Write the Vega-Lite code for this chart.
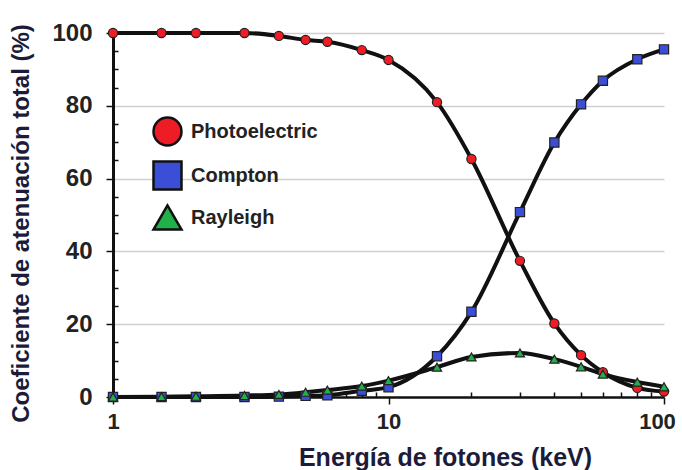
{
  "$schema": "https://vega.github.io/schema/vega-lite/v6.json",
  "width": 551,
  "height": 364,
  "autosize": "none",
  "padding": {"left": 113, "top": 33, "right": 18, "bottom": 73},
  "background": "white",
  "data": {
    "values": [
      {"E": 1, "s": "Photoelectric", "v": 100},
      {"E": 1.5, "s": "Photoelectric", "v": 100},
      {"E": 2, "s": "Photoelectric", "v": 100},
      {"E": 3, "s": "Photoelectric", "v": 100},
      {"E": 4, "s": "Photoelectric", "v": 99.2},
      {"E": 5, "s": "Photoelectric", "v": 98.1},
      {"E": 6, "s": "Photoelectric", "v": 97.6},
      {"E": 8, "s": "Photoelectric", "v": 95.3},
      {"E": 10, "s": "Photoelectric", "v": 92.6},
      {"E": 15, "s": "Photoelectric", "v": 81},
      {"E": 20, "s": "Photoelectric", "v": 65.4},
      {"E": 30, "s": "Photoelectric", "v": 37.4},
      {"E": 40, "s": "Photoelectric", "v": 20.2},
      {"E": 50, "s": "Photoelectric", "v": 11.5},
      {"E": 60, "s": "Photoelectric", "v": 6.8},
      {"E": 80, "s": "Photoelectric", "v": 2.5},
      {"E": 100, "s": "Photoelectric", "v": 1.5},
      {"E": 1, "s": "Compton", "v": 0},
      {"E": 1.5, "s": "Compton", "v": 0},
      {"E": 2, "s": "Compton", "v": 0},
      {"E": 3, "s": "Compton", "v": 0},
      {"E": 4, "s": "Compton", "v": 0.1},
      {"E": 5, "s": "Compton", "v": 0.3},
      {"E": 6, "s": "Compton", "v": 0.5},
      {"E": 8, "s": "Compton", "v": 1.7},
      {"E": 10, "s": "Compton", "v": 2.7},
      {"E": 15, "s": "Compton", "v": 11.2},
      {"E": 20, "s": "Compton", "v": 23.4},
      {"E": 30, "s": "Compton", "v": 50.8},
      {"E": 40, "s": "Compton", "v": 69.9},
      {"E": 50, "s": "Compton", "v": 80.4},
      {"E": 60, "s": "Compton", "v": 86.9},
      {"E": 80, "s": "Compton", "v": 92.8},
      {"E": 100, "s": "Compton", "v": 95.5},
      {"E": 1, "s": "Rayleigh", "v": 0},
      {"E": 1.5, "s": "Rayleigh", "v": 0.1},
      {"E": 2, "s": "Rayleigh", "v": 0.2},
      {"E": 3, "s": "Rayleigh", "v": 0.4},
      {"E": 4, "s": "Rayleigh", "v": 0.7},
      {"E": 5, "s": "Rayleigh", "v": 1.3},
      {"E": 6, "s": "Rayleigh", "v": 1.9},
      {"E": 8, "s": "Rayleigh", "v": 3.0},
      {"E": 10, "s": "Rayleigh", "v": 4.5},
      {"E": 15, "s": "Rayleigh", "v": 8.2},
      {"E": 20, "s": "Rayleigh", "v": 11},
      {"E": 30, "s": "Rayleigh", "v": 12.1},
      {"E": 40, "s": "Rayleigh", "v": 10.4},
      {"E": 50, "s": "Rayleigh", "v": 8.3},
      {"E": 60, "s": "Rayleigh", "v": 6.3},
      {"E": 80, "s": "Rayleigh", "v": 4.1},
      {"E": 100, "s": "Rayleigh", "v": 2.8}
    ]
  },
  "encoding": {
    "x": {
      "field": "E",
      "type": "quantitative",
      "scale": {"type": "log", "domain": [1, 100], "nice": false},
      "axis": {
        "title": "Energía de fotones (keV)",
        "values": [1, 2, 3, 4, 5, 6, 7, 8, 9, 10, 20, 30, 40, 50, 60, 70, 80, 90, 100],
        "labelExpr": "datum.value === 1 || datum.value === 10 || datum.value === 100 ? datum.value : ''",
        "grid": false,
        "domainColor": "#111",
        "domainWidth": 2.5,
        "tickColor": "#111",
        "tickWidth": 1.5,
        "tickSize": {"condition": {"test": "datum.value === 1 || datum.value === 10 || datum.value === 100", "value": 7}, "value": -5},
        "labelFontSize": 22,
        "labelFontWeight": "bold",
        "labelColor": "#222",
        "labelPadding": 7,
        "labelFlush": false,
        "labelOffset": {"condition": {"test": "datum.value === 100", "value": -7}, "value": 0},
        "titleFontSize": 25,
        "titleFontWeight": "bold",
        "titleColor": "#1c1c3a",
        "titleX": 332,
        "titleY": 48,
        "titleAlign": "center",
        "titleBaseline": "top"
      }
    },
    "y": {
      "field": "v",
      "type": "quantitative",
      "scale": {"domain": [0, 100], "nice": false},
      "axis": {
        "title": "Coeficiente de atenuación total (%)",
        "values": [0, 5, 10, 15, 20, 25, 30, 35, 40, 45, 50, 55, 60, 65, 70, 75, 80, 85, 90, 95, 100],
        "labelExpr": "datum.value % 20 === 0 ? datum.label : ''",
        "domainColor": "#111",
        "domainWidth": 3,
        "tickColor": "#111",
        "tickWidth": 1.5,
        "tickSize": {"condition": {"test": "datum.value % 20 === 0", "value": 7}, "value": -5},
        "gridColor": "#cfcfcf",
        "gridWidth": 1.5,
        "gridOpacity": {"condition": {"test": "datum.value % 20 === 0 && datum.value > 0", "value": 1}, "value": 0},
        "labelFontSize": 24,
        "labelFontWeight": "bold",
        "labelColor": "#222",
        "labelPadding": 14,
        "titleFontSize": 24,
        "titleFontWeight": "bold",
        "titleColor": "#1c1c3a",
        "titleAngle": -90,
        "titleX": -85,
        "titleY": 190,
        "titleAlign": "center",
        "titleBaseline": "alphabetic"
      }
    }
  },
  "layer": [
    {
      "mark": {"type": "line", "interpolate": "monotone", "color": "#111", "strokeWidth": 4},
      "encoding": {"detail": {"field": "s"}}
    },
    {
      "mark": {"type": "point", "filled": true, "stroke": "#222", "strokeWidth": 1.2, "size": 85, "opacity": 1},
      "encoding": {
        "shape": {
          "field": "s",
          "scale": {"domain": ["Photoelectric", "Compton", "Rayleigh"], "range": ["circle", "square", "triangle-up"]},
          "legend": {
            "encoding": {
              "symbols": {
                "shape": {"value": {"expr": "datum.value === 'Photoelectric' ? 'M-1,0H-0.3M0.3,0H1M0.3,0A0.3,0.3 0 1 1 -0.3,0A0.3,0.3 0 1 1 0.3,0Z' : datum.value === 'Compton' ? 'M-1,0H-0.3M0.3,0H1M-0.3,-0.3H0.3V0.3H-0.3Z' : 'M-1,0H-0.32M0.32,0H1M0,-0.3L0.32,0.26H-0.32Z'"}},
                "stroke": {"value": "#111"},
                "strokeWidth": {"value": 2.5}
              }
            }
          }
        },
        "fill": {
          "field": "s",
          "scale": {"domain": ["Photoelectric", "Compton", "Rayleigh"], "range": ["#ee1c24", "#3b4fd6", "#22b04a"]},
          "legend": {
            "encoding": {
              "symbols": {
                "shape": {"value": {"expr": "datum.value === 'Photoelectric' ? 'M-1,0H-0.3M0.3,0H1M0.3,0A0.3,0.3 0 1 1 -0.3,0A0.3,0.3 0 1 1 0.3,0Z' : datum.value === 'Compton' ? 'M-1,0H-0.3M0.3,0H1M-0.3,-0.3H0.3V0.3H-0.3Z' : 'M-1,0H-0.32M0.32,0H1M0,-0.3L0.32,0.26H-0.32Z'"}},
                "stroke": {"value": "#111"},
                "strokeWidth": {"value": 2.5}
              }
            }
          }
        }
      }
    }
  ],
  "config": {
    "font": "Liberation Sans",
    "view": {"stroke": null},
    "legend": {
      "title": null,
      "orient": "none",
      "legendX": 39,
      "legendY": 83,
      "padding": 0,
      "rowPadding": 5,
      "symbolSize": 784,
      "symbolStrokeColor": "#111",
      "symbolStrokeWidth": 2.5,
      "labelFontSize": 20,
      "labelFontWeight": "bold",
      "labelColor": "#222",
      "labelOffset": 8
    }
  }
}
